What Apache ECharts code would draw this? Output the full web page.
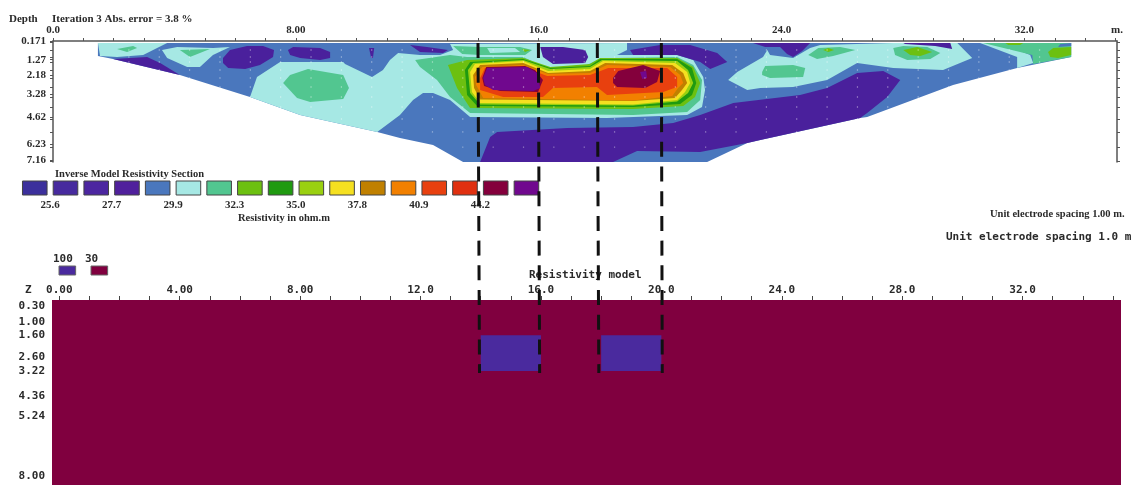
<!DOCTYPE html>
<html>
<head>
<meta charset="utf-8">
<script src="https://cdn.jsdelivr.net/npm/echarts@6/dist/echarts.min.js"></script>
<style>
  html, body { margin: 0; padding: 0; background: #fff; }
  #chart { width: 1137px; height: 485px; filter: blur(0.45px); }
</style>
</head>
<body>
<div id="chart"></div>
<script>
// upper section: every shape is a list of [distance m, depth m]
const sectionOutline = [[1.48,.29],[33.54,.29],[33.54,1.11],[31.76,1.76],[29.65,2.75],[26.82,4.63],[26.59,4.69],[23.30,5.98],[22.87,6.16],[21.55,7.28],[13.51,7.28],[12.52,6.28],[11.43,5.87],[10.68,5.51],[8.14,4.52],[6.49,3.46],[4.18,2.17],[1.98,1.23],[1.48,1.05]]

const cyanLeftTop = [[1.48,.29],[3.76,.29],[3.43,.58],[2.97,.99],[2.11,1.11],[1.55,1.05]]
const cyanLeftPatch = [[3.59,.70],[4.09,.52],[5.27,.58],[5.83,.52],[5.27,.99],[4.84,1.70],[4.42,1.70],[3.76,1.17]]
const cyanMain = [[6.49,3.46],[6.72,2.29],[7.48,1.40],[9.56,1.40],[9.62,1.52],[10.51,2.29],[10.87,1.87],[11.10,1.29],[11.37,.88],[12.09,.99],[12.75,.99],[13.18,.70],[13.08,.35],[18.91,.29],[18.91,.70],[18.58,.99],[20.56,.99],[21.09,1.29],[21.42,2.29],[21.48,3.05],[21.38,4.05],[20.89,4.52],[18.25,4.69],[13.74,4.63],[13.08,3.64],[12.52,3.22],[12.19,3.22],[11.86,3.64],[11.43,4.52],[10.68,5.51],[8.14,4.52]]
const cyanRight = [[22.24,2.46],[22.54,1.99],[23.39,1.11],[23.53,.70],[23.62,.99],[24.38,1.17],[24.94,.58],[25.27,.41],[27.68,.29],[29.79,.29],[30.28,1.17],[29.32,1.87],[27.68,1.76],[26.49,1.46],[25.50,2.46],[24.38,2.87],[23.30,2.93],[22.87,3.05]]
const cyanEnd = [[30.54,.29],[31.20,.29],[32.19,.99],[32.29,1.46],[31.76,1.76],[31.76,1.11]]
const cyanTopInner = [[14.30,.58],[15.22,.58],[15.39,.82],[14.40,.88]]

const darkA = [[5.60,1.17],[5.83,.70],[6.39,.47],[6.92,.47],[7.28,.70],[7.25,1.11],[6.82,1.58],[6.33,1.82],[5.77,1.76],[5.60,1.46]]
const darkB = [[7.74,.70],[7.91,.52],[8.80,.58],[9.13,.82],[9.13,1.17],[8.80,1.29],[8.14,1.17],[7.81,.99]]
const darkC = [[10.41,.58],[10.58,.58],[10.54,1.17],[10.48,1.17]]
const darkD = [[1.98,1.23],[3.10,1.11],[3.53,1.46],[4.18,2.17]]
const darkE = [[11.76,.41],[12.32,.52],[13.01,.70],[12.85,.88],[12.09,.82]]
const darkF = [[16.05,.52],[16.80,.52],[17.53,.70],[17.63,1.11],[17.53,1.46],[16.47,1.52],[16.14,1.11]]
const darkG = [[19.01,.70],[20.00,.41],[20.99,.41],[21.88,.88],[22.21,1.40],[21.65,1.82],[21.32,1.40],[20.56,.99],[19.11,.99]]
const darkH = [[23.06,.29],[24.94,.29],[24.68,.76],[24.38,1.11],[24.18,.93],[23.95,.52],[23.46,.52]]
const darkI = [[28.01,.29],[29.56,.29],[29.62,.64],[29.06,.47],[28.07,.35]]
const darkLower = [[14.07,7.28],[14.40,5.81],[14.63,5.51],[16.94,5.28],[19.11,5.22],[20.43,4.99],[21.32,4.52],[22.41,3.81],[24.61,3.34],[25.50,2.93],[26.49,2.05],[27.35,1.93],[27.91,2.46],[27.48,3.46],[26.82,4.40],[26.59,4.69],[23.30,5.98],[22.87,6.16],[21.32,6.69],[19.24,6.63],[18.45,7.28]]

const tealEnd = [[30.64,.29],[33.54,.29],[33.54,1.11],[32.29,1.52],[32.26,.99]]
const tealA = [[24.88,.99],[25.21,.58],[25.93,.52],[26.43,.70],[25.70,1.05],[25.17,1.23]]
const tealB = [[27.68,.58],[28.01,.47],[28.80,.52],[29.23,.88],[28.90,1.23],[28.14,1.29],[27.74,.99]]
const tealC = [[23.36,1.99],[23.46,1.64],[24.38,1.58],[24.78,1.76],[24.71,2.29],[23.62,2.34],[23.36,2.17]]
const tealD = [[2.11,.64],[2.64,.47],[2.77,.58],[2.44,.82]]
const tealE = [[4.18,.70],[5.17,.64],[4.51,1.11]]
const tealF = [[7.58,2.64],[7.81,2.17],[8.40,1.82],[9.56,2.17],[9.75,2.93],[9.56,3.58],[8.47,3.75],[8.04,3.52]]
const tealTop = [[13.18,.47],[14.07,.52],[15.39,.52],[15.78,.70],[15.55,.99],[14.07,.99],[13.48,.93]]

const blueEnd = [[33.18,.35],[33.54,.29],[33.54,.47],[33.11,.52]]
const limeEnd = [[32.78,.82],[32.95,.58],[33.54,.52],[33.54,.99],[33.11,1.17],[32.85,1.11]]
const limeTop = [[31.37,.29],[31.96,.29],[31.86,.41],[31.47,.41]]
const limeA = [[25.37,.70],[25.54,.58],[25.73,.70],[25.54,.82]]
const limeB = [[28.01,.70],[28.47,.52],[28.96,.82],[28.57,1.05],[28.24,.99]]
const limeC = [[15.45,.64],[15.72,.70],[15.55,.82]]

// the anomaly, outside to inside
const ringTeal = [[11.93,1.29],[13.08,.99],[13.64,1.11],[15.49,1.11],[16.05,1.58],[16.38,1.76],[17.59,1.58],[17.92,1.29],[18.45,1.17],[20.56,1.11],[21.09,1.58],[21.38,2.46],[21.32,3.64],[20.89,4.34],[19.11,4.52],[13.74,4.40],[13.08,3.46],[12.65,2.46],[12.09,1.70]]
const ringLime = [[13.01,1.58],[13.64,1.29],[15.49,1.17],[16.38,1.70],[17.69,1.52],[18.02,1.17],[20.56,1.17],[21.09,1.70],[21.32,2.64],[21.15,3.46],[20.76,3.99],[19.11,4.16],[13.74,4.11],[13.31,2.93]]
const ringGreen = [[13.57,1.87],[13.74,1.40],[15.49,1.23],[16.38,1.76],[17.69,1.64],[18.02,1.23],[20.56,1.23],[21.05,1.76],[21.19,2.64],[21.05,3.34],[20.66,3.87],[19.11,4.05],[13.97,3.99],[13.64,3.34]]
const ringYellowGreen = [[13.67,1.87],[13.84,1.46],[15.49,1.29],[16.38,1.82],[17.69,1.70],[18.09,1.29],[20.56,1.35],[20.92,1.87],[21.09,2.64],[20.92,3.22],[20.56,3.72],[19.11,3.96],[14.07,3.90],[13.74,3.22]]
const ringYellow = [[13.74,1.99],[13.90,1.52],[15.49,1.35],[16.31,1.93],[17.69,1.82],[18.12,1.35],[20.49,1.46],[20.89,1.99],[20.99,2.64],[20.82,3.17],[20.56,3.64],[19.11,3.90],[14.07,3.81],[13.80,3.17]]
const ringOchre = [[13.84,2.17],[14.07,1.58],[15.49,1.46],[16.31,2.05],[17.69,1.93],[18.19,1.46],[20.40,1.58],[20.76,2.05],[20.89,2.64],[20.72,3.05],[20.49,3.52],[19.11,3.69],[14.07,3.61],[13.87,2.93]]
const ringOrange = [[13.90,2.29],[14.14,1.70],[15.49,1.58],[16.31,2.11],[17.69,2.05],[18.25,1.58],[20.33,1.70],[20.66,2.17],[20.76,2.64],[20.59,2.93],[20.40,3.40],[19.11,3.66],[14.17,3.52],[13.94,2.75]]
const ringRed = [[14.07,2.34],[14.23,1.76],[15.49,1.70],[16.28,2.23],[17.69,2.17],[18.29,1.76],[20.23,1.76],[20.56,2.29],[20.56,2.87],[20.10,3.17],[18.25,3.34],[17.92,2.87],[16.47,2.93],[16.14,3.46],[14.83,3.46],[14.07,3.05]]
const coreLeftMaroon = [[14.27,1.70],[15.55,1.64],[15.88,1.87],[16.14,2.46],[15.98,3.17],[14.73,3.11],[14.20,2.81],[14.14,2.34]]
const coreLeftPurple = [[14.30,1.76],[15.62,1.70],[15.95,2.05],[16.05,2.93],[15.82,3.11],[14.50,3.05],[14.23,2.75],[14.17,2.34]]
const coreRightMaroon = [[18.45,2.34],[18.62,1.93],[19.44,1.58],[20.00,1.93],[19.90,2.58],[19.51,2.93],[18.58,2.87],[18.45,2.64]]
const coreRightPurple = [[19.34,1.99],[19.54,1.93],[19.57,2.34],[19.41,2.40]]

// faint datum points of the pseudosection
const dotColumns = [2.5,3.5,4.5,5.5,6.5,7.5,8.5,9.5,10.5,11.5,12.5,13.5,14.5,15.5,16.5,17.5,18.5,19.5,20.5,21.5,22.5,23.5,24.5,25.5,26.5,27.5,28.5,29.5,30.5,31.5,32.5]
const dotRowDepths = [0.70, 1.11, 1.40, 1.87, 2.34, 2.87, 3.46, 4.05, 4.75, 5.51, 6.40]
const dotRowFirst = [2.5, 2.5, 2.5, 3.5, 4.5, 5.5, 6.5, 7.5, 9.5, 11.5, 13.5]
const dotRowLast = [32.5, 32.5, 32.5, 31.5, 30.5, 29.5, 28.5, 27.5, 26.5, 24.5, 21.5]

// electrode guide lines: distance and depth at both ends, upper section scale
const guideLines = [[14.00,.29,14.05,19.67],[15.99,.29,16.03,19.67],[17.93,.29,17.98,19.67],[20.04,.29,20.07,19.67]]

// lower model: [from m, to m, from z, to z]
const modelBackground = [-0.243, 35.27, 0, 8.38]
const modelBlocks = [[14, 16, 1.6, 3.22], [18, 20, 1.6, 3.22]]

const topTickValues = [0, 8, 16, 24, 32, 35.05]
const topTickLabels = ['0.0', '8.00', '16.0', '24.0', '32.0', 'm.']
const depthLabelValues = [0.171, 1.27, 2.18, 3.28, 4.62, 6.23, 7.16]
const depthTickValues = [0.23, 0.70, 1.11, 1.40, 1.87, 2.34, 2.87, 3.46, 4.05, 4.75, 5.51, 6.40, 7.25]
const metres = [...Array(36).keys()]
const modelLabelValues = [0, 4, 8, 12, 16, 20, 24, 28, 32]
const modelLabelTexts = ['0.00', '4.00', '8.00', '12.0', '16.0', '20.0', '24.0', '28.0', '32.0']
const zLabelValues = [0.3, 1, 1.6, 2.6, 3.22, 4.36, 5.24, 8]
const zTickValues = [0.05, 0.15, 0.3, 0.45, 0.75, 1, 1.6, 2.12, 2.6, 3.22, 4.36, 5.24, 8]

const legendColors = ['#3c309c', '#472a9e', '#4c26a0', '#50209c', '#4a77bd', '#a6e8e4', '#52c690', '#6cc010', '#1f9a10', '#9ad010', '#f5e020', '#c08000', '#f28000', '#e8400f', '#e03010', '#84003c', '#70088e']
const legendLabels = ['', '25.6', '', '27.7', '', '29.9', '', '32.3', '', '35.0', '', '37.8', '', '40.9', '', '44.2', '']
const modelLegendColors = ['#4a2a9e', '#80003f']

const DARK = '#4a209c'
const BLUE = legendColors[4]
const CYAN = legendColors[5]
const TEAL = legendColors[6]
const LIME = legendColors[7]
const MAROON = legendColors[15]
const PURPLE = legendColors[16]

// painted in this order
const sectionLayers = [
  [sectionOutline, BLUE],
  [cyanLeftTop, CYAN], [cyanLeftPatch, CYAN], [cyanMain, CYAN], [cyanRight, CYAN], [cyanEnd, CYAN],
  [darkA, DARK], [darkB, DARK], [darkC, DARK], [darkD, DARK], [darkE, DARK], [darkF, DARK], [darkG, DARK], [darkH, DARK], [darkI, DARK], [darkLower, DARK],
  [tealEnd, TEAL], [tealA, TEAL], [tealB, TEAL], [tealC, TEAL], [tealD, TEAL], [tealE, TEAL], [tealF, TEAL], [tealTop, TEAL],
  [cyanTopInner, CYAN], [blueEnd, BLUE],
  [limeEnd, LIME], [limeTop, LIME], [limeA, LIME], [limeB, LIME], [limeC, LIME],
  [ringTeal, TEAL], [ringLime, LIME], [ringGreen, legendColors[8]], [ringYellowGreen, legendColors[9]],
  [ringYellow, legendColors[10]], [ringOchre, legendColors[11]], [ringOrange, legendColors[12]], [ringRed, legendColors[13]],
  [coreLeftMaroon, MAROON], [coreLeftPurple, PURPLE], [coreRightMaroon, MAROON], [coreRightPurple, PURPLE]
]

const datumDots = dotRowDepths.flatMap((depth, r) =>
  dotColumns.filter(x => x >= dotRowFirst[r] && x <= dotRowLast[r]).map(x => [x, depth])
)

const SERIF = '"Liberation Serif", serif'
const MONO = '"DejaVu Sans Mono", monospace'
const serifText = { fontFamily: SERIF, fontWeight: 'bold', fontSize: 11, color: '#2a2a2a' }
const monoText = { fontFamily: MONO, fontWeight: 'bold', fontSize: 11, color: '#2a2a2a' }
const axisGrey = { color: '#555', width: 1.5 }

// rect from [x0, x1, y0, y1] through the axes
function rectFrom(api, box, fill, stroke) {
  const a = api.coord([box[0], box[2]])
  const b = api.coord([box[1], box[3]])
  return {
    type: 'rect',
    shape: { x: a[0], y: a[1], width: b[0] - a[0], height: b[1] - a[1] },
    style: { fill, stroke: stroke || null, lineWidth: stroke ? 1 : 0 }
  }
}

const hiddenAxis = { show: false }

const option = {
  animation: false,
  backgroundColor: '#fff',
  grid: [
    { left: 53, top: 41, width: 1064, height: 121 },
    { left: 52, top: 300, width: 1069, height: 185 },
    { left: 19.4, top: 181, width: 522.4, height: 14 },
    { left: 59, top: 266, width: 48, height: 9 }
  ],
  xAxis: [
    {
      gridIndex: 0, type: 'value', position: 'top', min: 0, max: 35.05,
      axisLine: { lineStyle: axisGrey },
      axisTick: { inside: false, length: 3, customValues: metres, lineStyle: { color: '#555' } },
      axisLabel: {
        ...serifText, margin: 5, customValues: topTickValues,
        formatter: v => topTickLabels[topTickValues.indexOf(v)]
      },
      splitLine: { show: false }
    },
    {
      gridIndex: 1, type: 'value', position: 'top', min: -0.243, max: 35.27,
      axisLine: { show: false },
      axisTick: { length: 4, customValues: metres, lineStyle: { color: '#444' } },
      axisLabel: {
        ...monoText, margin: 4, customValues: modelLabelValues,
        formatter: v => modelLabelTexts[modelLabelValues.indexOf(v)]
      },
      splitLine: { show: false }
    },
    {
      gridIndex: 2, type: 'value', min: 0, max: 17, interval: 1,
      axisLine: { show: false }, axisTick: { show: false }, splitLine: { show: false },
      axisLabel: { ...serifText, margin: 4.5, formatter: v => legendLabels[v] }
    },
    { gridIndex: 3, type: 'value', min: 0, max: 1.5, ...hiddenAxis }
  ],
  yAxis: [
    {
      gridIndex: 0, type: 'value', inverse: true, min: 0.171, max: 7.276,
      axisLine: { lineStyle: axisGrey, onZero: false },
      axisTick: { length: 3, customValues: depthTickValues.concat(depthLabelValues), lineStyle: { color: '#555' } },
      axisLabel: { ...serifText, margin: 7, customValues: depthLabelValues, formatter: v => String(v) },
      splitLine: { show: false }
    },
    {
      gridIndex: 0, type: 'value', inverse: true, position: 'right', min: 0.171, max: 7.276,
      axisLine: { lineStyle: axisGrey, onZero: false },
      axisTick: { length: 3, customValues: depthTickValues, lineStyle: { color: '#555' } },
      axisLabel: { show: false },
      splitLine: { show: false }
    },
    {
      gridIndex: 1, type: 'value', inverse: true, min: 0, max: 8.38,
      axisLine: { show: false },
      axisTick: { length: 4, customValues: zTickValues, lineStyle: { color: '#444' } },
      axisLabel: { ...monoText, margin: 7, customValues: zLabelValues, formatter: v => v.toFixed(2) },
      splitLine: { show: false }
    },
    { gridIndex: 2, type: 'value', min: 0, max: 1, ...hiddenAxis },
    { gridIndex: 3, type: 'value', min: 0, max: 1, ...hiddenAxis }
  ],
  series: [
    {
      type: 'custom', xAxisIndex: 0, yAxisIndex: 0, silent: true,
      data: sectionLayers.map((_, i) => [i]),
      renderItem: (params, api) => {
        const layer = sectionLayers[params.dataIndex]
        return {
          type: 'polygon',
          shape: { points: layer[0].map(p => api.coord(p)) },
          style: { fill: layer[1] }
        }
      }
    },
    {
      type: 'scatter', xAxisIndex: 0, yAxisIndex: 0, silent: true, z: 4,
      symbolSize: 1.4,
      itemStyle: { color: '#fff', opacity: 0.5 },
      data: datumDots
    },
    {
      type: 'custom', xAxisIndex: 1, yAxisIndex: 2, silent: true, clip: true,
      data: [modelBackground],
      renderItem: (params, api) => rectFrom(api, modelBackground, modelLegendColors[1])
    },
    {
      type: 'custom', xAxisIndex: 1, yAxisIndex: 2, silent: true, z: 3,
      data: modelBlocks,
      renderItem: (params, api) => rectFrom(api, modelBlocks[params.dataIndex], modelLegendColors[0])
    },
    {
      type: 'custom', xAxisIndex: 2, yAxisIndex: 3, silent: true,
      data: legendColors.map((_, i) => [i]),
      renderItem: (params, api) => {
        const i = params.dataIndex
        return rectFrom(api, [i + 0.1, i + 0.9, 0, 1], legendColors[i], '#444')
      }
    },
    {
      type: 'custom', xAxisIndex: 3, yAxisIndex: 4, silent: true,
      data: modelLegendColors.map((_, i) => [i]),
      renderItem: (params, api) => {
        const i = params.dataIndex
        return rectFrom(api, [i, i + 0.52, 0, 1], modelLegendColors[i], '#666')
      }
    },
    {
      type: 'custom', xAxisIndex: 0, yAxisIndex: 0, silent: true, z: 20,
      data: guideLines,
      renderItem: (params, api) => {
        const l = guideLines[params.dataIndex]
        const a = api.coord([l[0], l[1]])
        const b = api.coord([l[2], l[3]])
        return {
          type: 'line',
          shape: { x1: a[0], y1: a[1], x2: b[0], y2: b[1] },
          style: { stroke: '#111', lineWidth: 3, lineDash: [15, 9.7] }
        }
      }
    }
  ],
  graphic: [
    { type: 'text', left: 9, top: 14, style: { text: 'Depth', font: 'bold 11px ' + SERIF, fill: '#2a2a2a' } },
    { type: 'text', left: 52, top: 14, style: { text: 'Iteration 3 Abs. error = 3.8 %', font: 'bold 11px ' + SERIF, fill: '#2a2a2a' } },
    { type: 'text', left: 55, top: 169, style: { text: 'Inverse Model Resistivity Section', font: 'bold 10.5px ' + SERIF, fill: '#2a2a2a' } },
    { type: 'text', left: 238, top: 213, style: { text: 'Resistivity in ohm.m', font: 'bold 10.5px ' + SERIF, fill: '#2a2a2a' } },
    { type: 'text', left: 990, top: 209, style: { text: 'Unit electrode spacing 1.00 m.', font: 'bold 10.5px ' + SERIF, fill: '#2a2a2a' } },
    { type: 'text', left: 946, top: 232, style: { text: 'Unit electrode spacing 1.0 m', font: 'bold 11px ' + MONO, fill: '#2a2a2a' } },
    { type: 'text', left: 53, top: 254, style: { text: '100', font: 'bold 11px ' + MONO, fill: '#2a2a2a' } },
    { type: 'text', left: 85, top: 254, style: { text: '30', font: 'bold 11px ' + MONO, fill: '#2a2a2a' } },
    { type: 'text', left: 529, top: 270, style: { text: 'Resistivity model', font: 'bold 11px ' + MONO, fill: '#2a2a2a' } },
    { type: 'text', left: 25, top: 285, style: { text: 'Z', font: 'bold 11px ' + MONO, fill: '#2a2a2a' } }
  ]
}

const chart = echarts.init(document.getElementById('chart'))
chart.setOption(option)
</script>
</body>
</html>
